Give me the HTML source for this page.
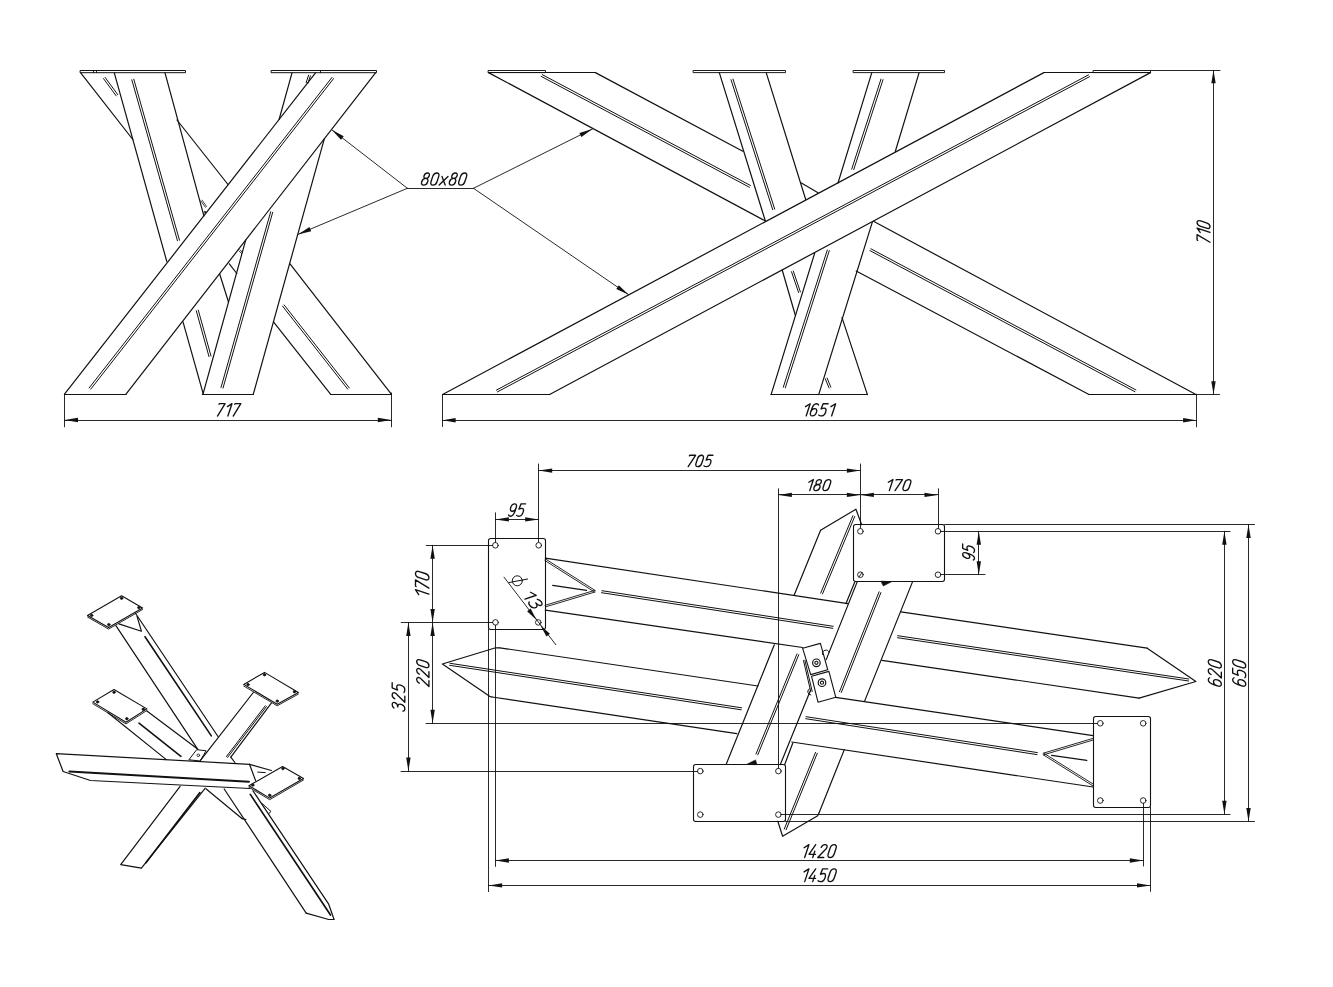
<!DOCTYPE html>
<html><head><meta charset="utf-8"><style>
html,body{margin:0;padding:0;background:#fff;}
body{width:1333px;height:987px;overflow:hidden;}
svg{display:block;will-change:transform;}
text{font-family:"Liberation Sans",sans-serif;font-style:italic;fill:#111;stroke:none;}
</style></head><body>
<svg width="1333" height="987" viewBox="0 0 1333 987">
<g stroke="#111" stroke-linecap="round" stroke-linejoin="round" fill="none">
<rect x="80.5" y="70.5" width="105" height="2.2" fill="none" stroke-width="1.0"/>
<line x1="93.5" y1="70.5" x2="93.5" y2="72.7" stroke-width="0.9"/>
<line x1="96.5" y1="70.5" x2="96.5" y2="72.7" stroke-width="0.9"/>
<rect x="271.5" y="70.5" width="105" height="2.2" fill="none" stroke-width="1.0"/>
<line x1="320.5" y1="70.5" x2="320.5" y2="72.7" stroke-width="0.9"/>
<line x1="315.5" y1="72.9" x2="64.5" y2="394.2" stroke-width="1.2"/>
<line x1="375.5" y1="72.9" x2="126" y2="394.2" stroke-width="1.2"/>
<line x1="332" y1="77.4" x2="89.2" y2="387.9" stroke-width="1"/>
<line x1="333.6" y1="78.6" x2="90.8" y2="389.1" stroke-width="1"/>
<line x1="64.5" y1="394.5" x2="126" y2="394.5" stroke-width="1.2"/>
<line x1="80.7" y1="72.9" x2="132.8" y2="139.5" stroke-width="1.2"/>
<line x1="229.3" y1="263.8" x2="236.8" y2="273.5" stroke-width="1.2"/>
<line x1="273.5" y1="321.8" x2="330.5" y2="394.2" stroke-width="1.2"/>
<line x1="177" y1="120" x2="228" y2="184.5" stroke-width="1.2"/>
<line x1="290" y1="263.8" x2="391.3" y2="394.2" stroke-width="1.2"/>
<line x1="103.5" y1="78.6" x2="116.2" y2="95.9" stroke-width="1"/>
<line x1="105.1" y1="77.4" x2="117.8" y2="94.7" stroke-width="1"/>
<line x1="282.5" y1="306.1" x2="347.7" y2="389.1" stroke-width="1"/>
<line x1="284.1" y1="304.9" x2="349.3" y2="387.9" stroke-width="1"/>
<line x1="330.5" y1="394.5" x2="391.3" y2="394.5" stroke-width="1.2"/>
<line x1="114.3" y1="72.9" x2="166.8" y2="261.5" stroke-width="1.2"/>
<line x1="183" y1="321.8" x2="203.3" y2="394.2" stroke-width="1.2"/>
<line x1="165" y1="72.9" x2="203.9" y2="215.8" stroke-width="1.2"/>
<line x1="219.6" y1="273.7" x2="228.5" y2="302" stroke-width="1.2"/>
<line x1="131.8" y1="79.8" x2="177.5" y2="240.8" stroke-width="1"/>
<line x1="133.8" y1="79.2" x2="179.5" y2="240.2" stroke-width="1"/>
<line x1="196.3" y1="310.8" x2="209" y2="356.6" stroke-width="1"/>
<line x1="198.3" y1="310.2" x2="211" y2="356" stroke-width="1"/>
<line x1="292" y1="72.9" x2="279.1" y2="119.5" stroke-width="1.2"/>
<line x1="245.7" y1="240.1" x2="203" y2="394.2" stroke-width="1.2"/>
<line x1="324.3" y1="138.9" x2="253.3" y2="394.2" stroke-width="1.2"/>
<line x1="270.7" y1="211.7" x2="221" y2="387.5" stroke-width="1"/>
<line x1="272.7" y1="212.3" x2="223" y2="388.1" stroke-width="1"/>
<line x1="308.6" y1="75.2" x2="306.1" y2="82.7" stroke-width="1"/>
<line x1="310.4" y1="75.8" x2="307.9" y2="83.3" stroke-width="1"/>
<line x1="202.3" y1="394.5" x2="253.5" y2="394.5" stroke-width="1.2"/>
<line x1="200.8" y1="200.9" x2="205.4" y2="207.3" stroke-width="0.8"/>
<line x1="202" y1="200.1" x2="206.6" y2="206.5" stroke-width="0.8"/>
<circle cx="205" cy="212.2" r="0.9" fill="none" stroke-width="0.9"/>
<line x1="239" y1="250.8" x2="241.7" y2="253.7" stroke-width="0.8"/>
<line x1="240" y1="249.8" x2="242.7" y2="252.7" stroke-width="0.8"/>
<line x1="64.5" y1="394.2" x2="64.5" y2="426.8" stroke-width="0.9"/>
<line x1="391.5" y1="393" x2="391.5" y2="426.8" stroke-width="0.9"/>
<line x1="64.5" y1="420.5" x2="391.3" y2="420.5" stroke-width="0.9"/>
<polygon points="64.5,420 78,417.8 78,422.2" stroke="none" fill="#111"/>
<polygon points="391.3,420 377.8,422.2 377.8,417.8" stroke="none" fill="#111"/>
<line x1="407.4" y1="188.5" x2="473.5" y2="188.5" stroke-width="0.9"/>
<line x1="407.4" y1="188.3" x2="331.7" y2="129.7" stroke-width="0.9"/>
<polygon points="331.7,129.7 343.7,136.2 341,139.7" stroke="none" fill="#111"/>
<line x1="407.4" y1="188.3" x2="297.9" y2="234.4" stroke-width="0.9"/>
<polygon points="297.9,234.4 309.5,227.1 311.2,231.2" stroke="none" fill="#111"/>
<line x1="473.5" y1="188.3" x2="592.5" y2="128.9" stroke-width="0.9"/>
<polygon points="592.5,128.9 581.4,136.9 579.4,133" stroke="none" fill="#111"/>
<line x1="473.5" y1="188.3" x2="628.7" y2="294.7" stroke-width="0.9"/>
<polygon points="628.7,294.7 616.3,288.9 618.8,285.3" stroke="none" fill="#111"/>
<rect x="488.5" y="70.5" width="57" height="2.1" fill="none" stroke-width="0.95"/>
<rect x="693.5" y="70.5" width="92" height="2.1" fill="none" stroke-width="0.95"/>
<rect x="853.5" y="70.5" width="91" height="2.1" fill="none" stroke-width="0.95"/>
<rect x="1093.5" y="70.5" width="57" height="2.1" fill="none" stroke-width="0.95"/>
<line x1="488.5" y1="72.5" x2="595.4" y2="72.5" stroke-width="1.2"/>
<line x1="1043.9" y1="72.5" x2="1150.5" y2="72.5" stroke-width="1.2"/>
<line x1="1150.5" y1="70.5" x2="1220" y2="70.5" stroke-width="0.9"/>
<line x1="488.5" y1="72.6" x2="765" y2="220.8" stroke-width="1.2"/>
<line x1="856.2" y1="271" x2="1088.5" y2="394.2" stroke-width="1.2"/>
<line x1="595.4" y1="72.6" x2="742.8" y2="151.2" stroke-width="1.2"/>
<line x1="801.4" y1="183" x2="818" y2="192.8" stroke-width="1.2"/>
<line x1="873.5" y1="221.3" x2="1195.5" y2="394.2" stroke-width="1.2"/>
<line x1="541.2" y1="76.4" x2="749.5" y2="187.3" stroke-width="1"/>
<line x1="542.2" y1="74.6" x2="750.5" y2="185.5" stroke-width="1"/>
<line x1="869.9" y1="250.6" x2="1134.9" y2="391.7" stroke-width="1"/>
<line x1="870.9" y1="248.8" x2="1135.9" y2="389.9" stroke-width="1"/>
<line x1="1088.5" y1="394.5" x2="1195.5" y2="394.5" stroke-width="1.2"/>
<line x1="1043.9" y1="72.6" x2="442.6" y2="394.5" stroke-width="1.2"/>
<line x1="1150.5" y1="72.6" x2="549.6" y2="394.5" stroke-width="1.2"/>
<line x1="1088.5" y1="74.9" x2="496.4" y2="390.1" stroke-width="1"/>
<line x1="1089.5" y1="76.7" x2="497.4" y2="391.9" stroke-width="1"/>
<line x1="442.6" y1="394.5" x2="549.6" y2="394.5" stroke-width="1.2"/>
<line x1="719.3" y1="72.6" x2="765.3" y2="220.8" stroke-width="1.2"/>
<line x1="782.2" y1="270" x2="795.4" y2="315.5" stroke-width="1.2"/>
<line x1="766.2" y1="72.6" x2="805.7" y2="199.5" stroke-width="1.2"/>
<line x1="842" y1="317.6" x2="867.4" y2="394.6" stroke-width="1.2"/>
<line x1="731" y1="79.7" x2="772.7" y2="209.7" stroke-width="1"/>
<line x1="733" y1="79.1" x2="774.7" y2="209.1" stroke-width="1"/>
<line x1="791.5" y1="271.7" x2="798.6" y2="292.5" stroke-width="1"/>
<line x1="793.3" y1="271.1" x2="800.4" y2="291.9" stroke-width="1"/>
<line x1="825.3" y1="378.8" x2="829" y2="387.9" stroke-width="1"/>
<line x1="827.1" y1="378" x2="830.8" y2="387.1" stroke-width="1"/>
<line x1="819.7" y1="394.5" x2="867.4" y2="394.5" stroke-width="1.2"/>
<line x1="871.8" y1="72.6" x2="838" y2="183" stroke-width="1.2"/>
<line x1="814.7" y1="253.1" x2="771.1" y2="394.6" stroke-width="1.2"/>
<line x1="919.1" y1="72.6" x2="895.3" y2="151.5" stroke-width="1.2"/>
<line x1="872.4" y1="221.9" x2="818.7" y2="394.6" stroke-width="1.2"/>
<line x1="881" y1="79.1" x2="851.7" y2="169.1" stroke-width="1"/>
<line x1="883" y1="79.7" x2="853.7" y2="169.7" stroke-width="1"/>
<line x1="827.3" y1="250" x2="783.3" y2="387.2" stroke-width="1"/>
<line x1="829.3" y1="250.6" x2="785.3" y2="387.8" stroke-width="1"/>
<line x1="771.1" y1="394.5" x2="818.7" y2="394.5" stroke-width="1.2"/>
<line x1="442.5" y1="394.5" x2="442.5" y2="426.5" stroke-width="0.9"/>
<line x1="1196.5" y1="394.2" x2="1196.5" y2="426.8" stroke-width="0.9"/>
<line x1="442.6" y1="420.5" x2="1196.1" y2="420.5" stroke-width="0.9"/>
<polygon points="442.6,420.2 455.6,418 455.6,422.4" stroke="none" fill="#111"/>
<polygon points="1196.1,420.2 1183.1,422.4 1183.1,418" stroke="none" fill="#111"/>
<line x1="1195.5" y1="394.5" x2="1219.5" y2="394.5" stroke-width="0.9"/>
<line x1="1213.5" y1="70.3" x2="1213.5" y2="394.2" stroke-width="0.9"/>
<polygon points="1213.5,70.3 1215.7,83.3 1211.3,83.3" stroke="none" fill="#111"/>
<polygon points="1213.5,394.2 1211.3,381.2 1215.7,381.2" stroke="none" fill="#111"/>
<rect x="488.5" y="538.5" width="57" height="91" rx="2.2" fill="none" stroke-width="1.1"/>
<rect x="853.5" y="524.5" width="91" height="57" rx="2.2" fill="none" stroke-width="1.1"/>
<rect x="1093.5" y="716.5" width="57" height="91" rx="2.2" fill="none" stroke-width="1.1"/>
<rect x="693.5" y="764.5" width="92" height="57" rx="2.2" fill="none" stroke-width="1.1"/>
<polygon points="746.8,764.3 755.5,759.9 756.9,764.3" fill="#111" stroke-width="0.6"/>
<polygon points="881,581.5 883.3,585.9 891.1,581.9" fill="#111" stroke-width="0.6"/>
<circle cx="495.4" cy="545.3" r="2.8" fill="none" stroke-width="0.9"/>
<circle cx="538.7" cy="545.3" r="2.8" fill="none" stroke-width="0.9"/>
<circle cx="495.5" cy="622.4" r="2.8" fill="none" stroke-width="0.9"/>
<circle cx="538.3" cy="622.4" r="2.8" fill="none" stroke-width="0.9"/>
<circle cx="860.4" cy="531.3" r="2.8" fill="none" stroke-width="0.9"/>
<circle cx="938" cy="531.3" r="2.8" fill="none" stroke-width="0.9"/>
<circle cx="860.4" cy="574.7" r="2.8" fill="none" stroke-width="0.9"/>
<circle cx="938" cy="574.7" r="2.8" fill="none" stroke-width="0.9"/>
<circle cx="1100.3" cy="723.3" r="2.8" fill="none" stroke-width="0.9"/>
<circle cx="1143.2" cy="723.3" r="2.8" fill="none" stroke-width="0.9"/>
<circle cx="1100.3" cy="800.5" r="2.8" fill="none" stroke-width="0.9"/>
<circle cx="1143.2" cy="800.5" r="2.8" fill="none" stroke-width="0.9"/>
<circle cx="700.3" cy="771.1" r="2.8" fill="none" stroke-width="0.9"/>
<circle cx="778.4" cy="771.1" r="2.8" fill="none" stroke-width="0.9"/>
<circle cx="700.3" cy="814.6" r="2.8" fill="none" stroke-width="0.9"/>
<circle cx="778.4" cy="814.6" r="2.8" fill="none" stroke-width="0.9"/>
<line x1="859" y1="577" x2="862" y2="572.5" stroke-width="0.9"/>
<line x1="545.3" y1="558.2" x2="847.9" y2="603.6" stroke-width="1.2"/>
<line x1="900.9" y1="611.9" x2="1147.2" y2="648.2" stroke-width="1.2"/>
<polyline points="1147.2,648.2 1195.9,681.5 1139.1,698.1" fill="none" stroke-width="1.2"/>
<line x1="545.3" y1="610.2" x2="802.6" y2="647.5" stroke-width="1.2"/>
<line x1="881.9" y1="660.3" x2="1139.1" y2="698.1" stroke-width="1.2"/>
<line x1="601.5" y1="592.7" x2="832.8" y2="628.3" stroke-width="1"/>
<line x1="601.9" y1="590.7" x2="833.2" y2="626.3" stroke-width="1"/>
<line x1="897.5" y1="637.7" x2="1188.6" y2="681" stroke-width="1"/>
<line x1="897.7" y1="635.7" x2="1188.8" y2="679" stroke-width="1"/>
<line x1="544.9" y1="560.5" x2="594.4" y2="591.9" stroke-width="0.9"/>
<line x1="545.7" y1="559.1" x2="595.2" y2="590.5" stroke-width="0.9"/>
<line x1="594.6" y1="590.4" x2="545.1" y2="605.3" stroke-width="0.9"/>
<line x1="595" y1="592" x2="545.5" y2="606.9" stroke-width="0.9"/>
<line x1="552.7" y1="585.4" x2="586.5" y2="590.4" stroke-width="1.2"/>
<polyline points="499.8,647.8 495.7,647.8 442.4,664 490.3,696.7 492,697" fill="none" stroke-width="1.2"/>
<line x1="499.8" y1="647.8" x2="758" y2="686" stroke-width="1.2"/>
<line x1="835.6" y1="697.4" x2="1093.1" y2="735.6" stroke-width="1.2"/>
<line x1="492" y1="697" x2="736.8" y2="733.7" stroke-width="1.2"/>
<line x1="791.7" y1="742" x2="1093.1" y2="787" stroke-width="1.2"/>
<line x1="449.6" y1="665.3" x2="741.2" y2="709.8" stroke-width="1"/>
<line x1="450" y1="663.3" x2="741.6" y2="707.8" stroke-width="1"/>
<line x1="805.7" y1="718.7" x2="1037" y2="754.6" stroke-width="1"/>
<line x1="806.1" y1="716.7" x2="1037.4" y2="752.6" stroke-width="1"/>
<line x1="1092.9" y1="738.4" x2="1043.3" y2="753.2" stroke-width="0.9"/>
<line x1="1093.3" y1="740" x2="1043.7" y2="754.8" stroke-width="0.9"/>
<line x1="1043.1" y1="754.7" x2="1092.7" y2="785.7" stroke-width="0.9"/>
<line x1="1043.9" y1="753.3" x2="1093.5" y2="784.3" stroke-width="0.9"/>
<line x1="1051.6" y1="755.4" x2="1086.8" y2="760.4" stroke-width="1.2"/>
<polyline points="820.6,530.3 855.9,509.2 861.7,524.7" fill="none" stroke-width="1.2"/>
<line x1="820.6" y1="530.3" x2="794.2" y2="595.1" stroke-width="1.2"/>
<line x1="774.3" y1="644.8" x2="726.2" y2="764.2" stroke-width="1.2"/>
<line x1="854.8" y1="581.9" x2="846" y2="603.6" stroke-width="1.2"/>
<line x1="810.6" y1="690" x2="780.3" y2="764.6" stroke-width="1.2"/>
<line x1="852.9" y1="515.7" x2="820.7" y2="593.1" stroke-width="1"/>
<line x1="854.7" y1="516.5" x2="822.5" y2="593.9" stroke-width="1"/>
<line x1="797" y1="653.9" x2="756" y2="754" stroke-width="1"/>
<line x1="798.8" y1="654.7" x2="757.8" y2="754.8" stroke-width="1"/>
<line x1="857.2" y1="581.9" x2="826.2" y2="659.6" stroke-width="1.2"/>
<line x1="792.7" y1="743.2" x2="784.7" y2="764.5" stroke-width="1.2"/>
<line x1="912.4" y1="582.1" x2="864.6" y2="701.1" stroke-width="1.2"/>
<line x1="844.3" y1="749.6" x2="819.3" y2="812.3" stroke-width="1.2"/>
<polyline points="819.3,812.3 817.7,815.7 782.6,836.3 777.8,821.3" fill="none" stroke-width="1.2"/>
<line x1="879.1" y1="591.8" x2="839.5" y2="691.7" stroke-width="1"/>
<line x1="880.9" y1="592.6" x2="841.3" y2="692.5" stroke-width="1"/>
<line x1="815.5" y1="752.4" x2="784.3" y2="829" stroke-width="1"/>
<line x1="817.3" y1="753.2" x2="786.1" y2="829.8" stroke-width="1"/>
<polygon points="802.6,648.2 820.4,643.4 827.7,669.7 810.7,674.6" fill="none" stroke-width="1.1"/>
<polygon points="811.5,676.2 828.9,671.4 835.8,697.3 818,702.2" fill="none" stroke-width="1.1"/>
<line x1="803.5" y1="660.6" x2="810.8" y2="691.8" stroke-width="1"/>
<line x1="804.9" y1="660.2" x2="812.2" y2="691.4" stroke-width="1"/>
<circle cx="816.4" cy="662.8" r="3.8" fill="none" stroke-width="1.2"/>
<circle cx="816.4" cy="662.8" r="1.6" fill="none" stroke-width="1.1"/>
<circle cx="822" cy="682.7" r="3.8" fill="none" stroke-width="1.2"/>
<circle cx="822" cy="682.7" r="1.6" fill="none" stroke-width="1.1"/>
<path d="M822.6,654.6 A3.4,3.4 0 0 1 829.2,652.6" fill="none" stroke-width="1.0"/>
<path d="M809.6,688.6 A3.4,3.4 0 0 0 810.8,695" fill="none" stroke-width="1.0"/>
<line x1="538.5" y1="464" x2="538.5" y2="542" stroke-width="0.9"/>
<line x1="860.5" y1="464" x2="860.5" y2="528" stroke-width="0.9"/>
<line x1="538.7" y1="470.5" x2="860.4" y2="470.5" stroke-width="0.9"/>
<polygon points="538.7,470.6 552.2,468.4 552.2,472.8" stroke="none" fill="#111"/>
<polygon points="860.4,470.6 846.9,472.8 846.9,468.4" stroke="none" fill="#111"/>
<line x1="778.5" y1="488.8" x2="778.5" y2="768.3" stroke-width="0.9"/>
<line x1="938.5" y1="488.8" x2="938.5" y2="528.5" stroke-width="0.9"/>
<line x1="778.4" y1="494.5" x2="938" y2="494.5" stroke-width="0.9"/>
<polygon points="778.4,494.9 791.9,492.7 791.9,497.1" stroke="none" fill="#111"/>
<polygon points="860.4,494.9 846.9,497.1 846.9,492.7" stroke="none" fill="#111"/>
<polygon points="860.4,494.9 873.9,492.7 873.9,497.1" stroke="none" fill="#111"/>
<polygon points="938,494.9 924.5,497.1 924.5,492.7" stroke="none" fill="#111"/>
<line x1="495.5" y1="512.8" x2="495.5" y2="542.5" stroke-width="0.9"/>
<line x1="495.4" y1="519.5" x2="538.7" y2="519.5" stroke-width="0.9"/>
<polygon points="495.4,519.4 508.9,517.2 508.9,521.6" stroke="none" fill="#111"/>
<polygon points="538.7,519.4 525.2,521.6 525.2,517.2" stroke="none" fill="#111"/>
<line x1="940.8" y1="531.5" x2="1230.1" y2="531.5" stroke-width="0.9"/>
<line x1="940.8" y1="574.5" x2="985" y2="574.5" stroke-width="0.9"/>
<line x1="978.5" y1="531.3" x2="978.5" y2="574.7" stroke-width="0.9"/>
<polygon points="978.8,531.3 981,544.8 976.6,544.8" stroke="none" fill="#111"/>
<polygon points="978.8,574.7 976.6,561.2 981,561.2" stroke="none" fill="#111"/>
<line x1="944.6" y1="524.5" x2="1254.5" y2="524.5" stroke-width="0.9"/>
<line x1="1224.5" y1="531.3" x2="1224.5" y2="814.3" stroke-width="0.9"/>
<polygon points="1224.4,531.3 1226.6,544.8 1222.2,544.8" stroke="none" fill="#111"/>
<polygon points="1224.4,814.3 1222.2,800.8 1226.6,800.8" stroke="none" fill="#111"/>
<line x1="1248.5" y1="524.5" x2="1248.5" y2="821.4" stroke-width="0.9"/>
<polygon points="1248.5,524.5 1250.7,538 1246.3,538" stroke="none" fill="#111"/>
<polygon points="1248.5,821.4 1246.3,807.9 1250.7,807.9" stroke="none" fill="#111"/>
<line x1="781.2" y1="814.5" x2="1230" y2="814.5" stroke-width="0.9"/>
<line x1="785.2" y1="821.5" x2="1254.5" y2="821.5" stroke-width="0.9"/>
<line x1="426.3" y1="545.5" x2="492.6" y2="545.5" stroke-width="0.9"/>
<line x1="401.2" y1="622.5" x2="492.7" y2="622.5" stroke-width="0.9"/>
<line x1="426" y1="723.5" x2="1097.5" y2="723.5" stroke-width="0.9"/>
<line x1="401" y1="771.5" x2="697.5" y2="771.5" stroke-width="0.9"/>
<line x1="432.5" y1="545.3" x2="432.5" y2="723.3" stroke-width="0.9"/>
<polygon points="432.6,545.3 434.8,558.8 430.4,558.8" stroke="none" fill="#111"/>
<polygon points="432.6,622.4 430.4,608.9 434.8,608.9" stroke="none" fill="#111"/>
<polygon points="432.6,622.4 434.8,635.9 430.4,635.9" stroke="none" fill="#111"/>
<polygon points="432.6,723.3 430.4,709.8 434.8,709.8" stroke="none" fill="#111"/>
<line x1="408.5" y1="622.4" x2="408.5" y2="771.1" stroke-width="0.9"/>
<polygon points="408.4,622.4 410.6,635.9 406.2,635.9" stroke="none" fill="#111"/>
<polygon points="408.4,771.1 406.2,757.6 410.6,757.6" stroke="none" fill="#111"/>
<line x1="495.5" y1="625.2" x2="495.5" y2="866.4" stroke-width="0.9"/>
<line x1="488.5" y1="629.2" x2="488.5" y2="891.6" stroke-width="0.9"/>
<line x1="1143.5" y1="803.3" x2="1143.5" y2="866" stroke-width="0.9"/>
<line x1="1150.5" y1="807.3" x2="1150.5" y2="891.4" stroke-width="0.9"/>
<line x1="495.4" y1="860.5" x2="1143.3" y2="860.5" stroke-width="0.9"/>
<polygon points="495.4,860.5 508.9,858.3 508.9,862.7" stroke="none" fill="#111"/>
<polygon points="1143.3,860.5 1129.8,862.7 1129.8,858.3" stroke="none" fill="#111"/>
<line x1="488.6" y1="885.5" x2="1150.5" y2="885.5" stroke-width="0.9"/>
<polygon points="488.6,885.4 502.1,883.2 502.1,887.6" stroke="none" fill="#111"/>
<polygon points="1150.5,885.4 1137,887.6 1137,883.2" stroke="none" fill="#111"/>
<line x1="504" y1="577.2" x2="555.8" y2="644.7" stroke-width="0.9"/>
<polygon points="536.7,620.2 527.1,611.2 530.6,608.5" stroke="none" fill="#111"/>
<polygon points="540.1,624.9 549.9,633.7 546.5,636.5" stroke="none" fill="#111"/>
<polygon points="121.6,595.7 142.6,607.9 108.6,627.5 87.5,615.4" fill="none" stroke-width="1.1"/>
<polyline points="87.5,617 108.6,629.1 142.6,609.5" fill="none" stroke-width="0.9"/>
<circle cx="121.6" cy="598.3" r="1.2" fill="#111" stroke-width="0.8"/>
<circle cx="138.8" cy="607.6" r="1.2" fill="#111" stroke-width="0.8"/>
<circle cx="108.8" cy="624.6" r="1.2" fill="#111" stroke-width="0.8"/>
<circle cx="91.6" cy="615.4" r="1.2" fill="#111" stroke-width="0.8"/>
<polygon points="114,689.5 146.9,708.9 126,722.3 92.8,702.1" fill="none" stroke-width="1.1"/>
<polyline points="92.8,703.7 126,723.9 146.9,710.5" fill="none" stroke-width="0.9"/>
<circle cx="114" cy="692.2" r="1.2" fill="#111" stroke-width="0.8"/>
<circle cx="143.2" cy="709.2" r="1.2" fill="#111" stroke-width="0.8"/>
<circle cx="126.8" cy="718.7" r="1.2" fill="#111" stroke-width="0.8"/>
<circle cx="97.6" cy="701.9" r="1.2" fill="#111" stroke-width="0.8"/>
<polygon points="264.5,672.4 298.4,692.5 277.2,704.2 243.7,684.4" fill="none" stroke-width="1.1"/>
<polyline points="243.7,686 277.2,705.8 298.4,694.1" fill="none" stroke-width="0.9"/>
<circle cx="264.5" cy="674.8" r="1.2" fill="#111" stroke-width="0.8"/>
<circle cx="294.4" cy="691.7" r="1.2" fill="#111" stroke-width="0.8"/>
<circle cx="277.2" cy="701.1" r="1.2" fill="#111" stroke-width="0.8"/>
<circle cx="248" cy="684.6" r="1.2" fill="#111" stroke-width="0.8"/>
<polygon points="282.6,766.6 303.5,778.4 269.7,798.1 248.9,785.7" fill="none" stroke-width="1.1"/>
<polyline points="248.9,787.3 269.7,799.7 303.5,780" fill="none" stroke-width="0.9"/>
<circle cx="282.9" cy="768.6" r="1.2" fill="#111" stroke-width="0.8"/>
<circle cx="299.3" cy="778.4" r="1.2" fill="#111" stroke-width="0.8"/>
<circle cx="269.7" cy="795.3" r="1.2" fill="#111" stroke-width="0.8"/>
<circle cx="252.8" cy="785.1" r="1.2" fill="#111" stroke-width="0.8"/>
<line x1="115.9" y1="625.7" x2="197.3" y2="748.7" stroke-width="1.2"/>
<line x1="135.3" y1="613" x2="218" y2="736.5" stroke-width="1.2"/>
<line x1="145" y1="636.7" x2="211.3" y2="735.9" stroke-width="1.6"/>
<polyline points="118.9,623.9 141.4,631.2 137.1,616.6" fill="none" stroke-width="1.2"/>
<line x1="108" y1="712.8" x2="166.3" y2="759.6" stroke-width="1.2"/>
<line x1="146.9" y1="711" x2="197.9" y2="749.3" stroke-width="1.2"/>
<line x1="139" y1="723.2" x2="180.9" y2="756.3" stroke-width="1.6"/>
<line x1="253.3" y1="692.5" x2="200.5" y2="760.4" stroke-width="1.2"/>
<line x1="271.3" y1="703.2" x2="230.8" y2="757.2" stroke-width="1.2"/>
<line x1="230.8" y1="757.2" x2="234.9" y2="762.5" stroke-width="1.2"/>
<line x1="265.2" y1="705.8" x2="226.4" y2="756.6" stroke-width="1"/>
<line x1="266.4" y1="706.6" x2="227.6" y2="757.4" stroke-width="1"/>
<polygon points="197.1,749.7 206.1,750.8 200,761 189.3,759.8" fill="none" stroke-width="1"/>
<circle cx="198.3" cy="755.3" r="1.3" fill="none" stroke-width="0.8"/>
<polyline points="249.5,764.3 56.3,753.7 63.1,771.5 90.5,780.5 250,788.5" fill="none" stroke-width="1.2"/>
<line x1="69.4" y1="771.5" x2="248.9" y2="781.8" stroke-width="2"/>
<polyline points="249.5,764.3 271.4,770.5" fill="none" stroke-width="1.2"/>
<line x1="249.5" y1="764.3" x2="255.6" y2="780.6" stroke-width="1.2"/>
<line x1="257.7" y1="772.1" x2="265.3" y2="772.6" stroke-width="1"/>
<polyline points="180.1,786.3 120.7,864.6 141.4,868.2 205.3,788.1" fill="none" stroke-width="1.2"/>
<line x1="199.9" y1="792.6" x2="145.9" y2="862.8" stroke-width="1.7"/>
<line x1="224.2" y1="789" x2="306.2" y2="913.2" stroke-width="1.2"/>
<polyline points="306.2,913.2 328.7,919.5 334.1,919.5 328.7,904.2 253,790.8" fill="none" stroke-width="1.2"/>
<line x1="250.3" y1="794.4" x2="330.5" y2="915" stroke-width="1.7"/>
<line x1="206.2" y1="789" x2="242.2" y2="818.7" stroke-width="1.2"/>
<line x1="242.2" y1="818.7" x2="246" y2="819.5" stroke-width="1.2"/>
<polyline points="262,803.4 271,811.5 269.1,813.3" fill="none" stroke-width="1"/>
<circle cx="517.3" cy="580.8" r="5" fill="none" stroke-width="1"/>
<line x1="508.8" y1="582.6" x2="527.6" y2="579" stroke-width="1"/>
<g transform="matrix(1.0738,1.3993,1.1235,-0.3921,521.760,594.972)" stroke-width="1.35" fill="none"><path vector-effect="non-scaling-stroke" d="M0.2,7.6 L3.0,10 L3.0,0" transform="translate(0.000,0)"/><path vector-effect="non-scaling-stroke" d="M0.1,8.6 C0.5,9.5 1.2,10 2.2,10 C3.4,10 4.2,9.2 4.2,7.9 C4.2,6.5 3.3,5.6 1.8,5.6 C3.5,5.6 4.4,4.5 4.4,2.9 C4.4,1.1 3.4,0 2.1,0 C1.0,0 0.3,0.6 0,1.5" transform="translate(5.400,0)"/></g>
<g transform="matrix(1.2681,0.0000,0.4075,-1.2350,215.192,416.025)" stroke-width="1.35" fill="none" vector-effect="non-scaling-stroke"><path vector-effect="non-scaling-stroke" d="M0,9.5 L0.1,10 L4.6,10 L1.8,0" transform="translate(0.000,0)"/><path vector-effect="non-scaling-stroke" d="M0.2,7.6 L3.0,10 L3.0,0" transform="translate(7.000,0)"/><path vector-effect="non-scaling-stroke" d="M0,9.5 L0.1,10 L4.6,10 L1.8,0" transform="translate(12.400,0)"/></g>
<g transform="matrix(1.3389,0.0000,0.4010,-1.2150,802.160,415.925)" stroke-width="1.35" fill="none" vector-effect="non-scaling-stroke"><path vector-effect="non-scaling-stroke" d="M0.2,7.6 L3.0,10 L3.0,0" transform="translate(0.000,0)"/><path vector-effect="non-scaling-stroke" d="M4.1,9.0 C3.7,9.7 3.0,10 2.3,10 C0.9,10 0,8.4 0,5.4 L0,3.0 C0,1.0 1.0,0 2.2,0 C3.4,0 4.4,1.0 4.4,3.0 C4.4,5.0 3.4,6.0 2.2,6.0 C1.0,6.0 0,5.0 0,3.4" transform="translate(5.400,0)"/><path vector-effect="non-scaling-stroke" d="M4.2,10 L0.5,10 L0.2,5.7 C0.9,6.2 1.6,6.4 2.3,6.4 C3.6,6.4 4.4,5.3 4.4,3.3 C4.4,1.2 3.4,0 2.1,0 C1.2,0 0.5,0.2 0,0.7" transform="translate(12.200,0)"/><path vector-effect="non-scaling-stroke" d="M0.2,7.6 L3.0,10 L3.0,0" transform="translate(19.000,0)"/></g>
<g transform="matrix(1.3643,0.0000,0.3993,-1.2100,420.598,185.075)" stroke-width="1.35" fill="none" vector-effect="non-scaling-stroke"><path vector-effect="non-scaling-stroke" d="M2.2,5.5 C1.0,5.5 0.3,6.3 0.3,7.7 C0.3,9.1 1.1,10 2.2,10 C3.3,10 4.1,9.1 4.1,7.7 C4.1,6.3 3.4,5.5 2.2,5.5 Z M2.2,5.5 C0.9,5.5 0,4.5 0,2.8 C0,1.1 0.9,0 2.2,0 C3.5,0 4.4,1.1 4.4,2.8 C4.4,4.5 3.5,5.5 2.2,5.5 Z" transform="translate(0.000,0)"/><path vector-effect="non-scaling-stroke" d="M0,2.8 L0,7.2 C0,9.0 1.0,10 2.2,10 C3.4,10 4.4,9.0 4.4,7.2 L4.4,2.8 C4.4,1.0 3.4,0 2.2,0 C1.0,0 0,1.0 0,2.8 Z" transform="translate(6.800,0)"/><path vector-effect="non-scaling-stroke" d="M0,0 L4.4,7.1 M0,7.1 L4.4,0" transform="translate(13.600,0)"/><path vector-effect="non-scaling-stroke" d="M2.2,5.5 C1.0,5.5 0.3,6.3 0.3,7.7 C0.3,9.1 1.1,10 2.2,10 C3.3,10 4.1,9.1 4.1,7.7 C4.1,6.3 3.4,5.5 2.2,5.5 Z M2.2,5.5 C0.9,5.5 0,4.5 0,2.8 C0,1.1 0.9,0 2.2,0 C3.5,0 4.4,1.1 4.4,2.8 C4.4,4.5 3.5,5.5 2.2,5.5 Z" transform="translate(20.400,0)"/><path vector-effect="non-scaling-stroke" d="M0,2.8 L0,7.2 C0,9.0 1.0,10 2.2,10 C3.4,10 4.4,9.0 4.4,7.2 L4.4,2.8 C4.4,1.0 3.4,0 2.2,0 C1.0,0 0,1.0 0,2.8 Z" transform="translate(27.200,0)"/></g>
<g transform="matrix(1.2966,0.0000,0.3745,-1.1350,685.841,466.625)" stroke-width="1.35" fill="none" vector-effect="non-scaling-stroke"><path vector-effect="non-scaling-stroke" d="M0,9.5 L0.1,10 L4.6,10 L1.8,0" transform="translate(0.000,0)"/><path vector-effect="non-scaling-stroke" d="M0,2.8 L0,7.2 C0,9.0 1.0,10 2.2,10 C3.4,10 4.4,9.0 4.4,7.2 L4.4,2.8 C4.4,1.0 3.4,0 2.2,0 C1.0,0 0,1.0 0,2.8 Z" transform="translate(7.000,0)"/><path vector-effect="non-scaling-stroke" d="M4.2,10 L0.5,10 L0.2,5.7 C0.9,6.2 1.6,6.4 2.3,6.4 C3.6,6.4 4.4,5.3 4.4,3.3 C4.4,1.2 3.4,0 2.1,0 C1.2,0 0.5,0.2 0,0.7" transform="translate(13.800,0)"/></g>
<g transform="matrix(1.2413,0.0000,0.4075,-1.2350,507.895,516.225)" stroke-width="1.35" fill="none" vector-effect="non-scaling-stroke"><path vector-effect="non-scaling-stroke" d="M0.3,1.0 C0.7,0.3 1.4,0 2.1,0 C3.5,0 4.4,1.6 4.4,4.6 L4.4,7.0 C4.4,9.0 3.4,10 2.2,10 C1.0,10 0,9.0 0,7.0 C0,5.0 1.0,4.0 2.2,4.0 C3.4,4.0 4.4,5.0 4.4,6.6" transform="translate(0.000,0)"/><path vector-effect="non-scaling-stroke" d="M4.2,10 L0.5,10 L0.2,5.7 C0.9,6.2 1.6,6.4 2.3,6.4 C3.6,6.4 4.4,5.3 4.4,3.3 C4.4,1.2 3.4,0 2.1,0 C1.2,0 0.5,0.2 0,0.7" transform="translate(6.800,0)"/></g>
<g transform="matrix(1.3411,0.0000,0.3647,-1.1050,805.735,490.625)" stroke-width="1.35" fill="none" vector-effect="non-scaling-stroke"><path vector-effect="non-scaling-stroke" d="M0.2,7.6 L3.0,10 L3.0,0" transform="translate(0.000,0)"/><path vector-effect="non-scaling-stroke" d="M2.2,5.5 C1.0,5.5 0.3,6.3 0.3,7.7 C0.3,9.1 1.1,10 2.2,10 C3.3,10 4.1,9.1 4.1,7.7 C4.1,6.3 3.4,5.5 2.2,5.5 Z M2.2,5.5 C0.9,5.5 0,4.5 0,2.8 C0,1.1 0.9,0 2.2,0 C3.5,0 4.4,1.1 4.4,2.8 C4.4,4.5 3.5,5.5 2.2,5.5 Z" transform="translate(5.400,0)"/><path vector-effect="non-scaling-stroke" d="M0,2.8 L0,7.2 C0,9.0 1.0,10 2.2,10 C3.4,10 4.4,9.0 4.4,7.2 L4.4,2.8 C4.4,1.0 3.4,0 2.2,0 C1.0,0 0,1.0 0,2.8 Z" transform="translate(12.200,0)"/></g>
<g transform="matrix(1.3613,0.0000,0.3647,-1.1050,885.231,490.625)" stroke-width="1.35" fill="none" vector-effect="non-scaling-stroke"><path vector-effect="non-scaling-stroke" d="M0.2,7.6 L3.0,10 L3.0,0" transform="translate(0.000,0)"/><path vector-effect="non-scaling-stroke" d="M0,9.5 L0.1,10 L4.6,10 L1.8,0" transform="translate(5.400,0)"/><path vector-effect="non-scaling-stroke" d="M0,2.8 L0,7.2 C0,9.0 1.0,10 2.2,10 C3.4,10 4.4,9.0 4.4,7.2 L4.4,2.8 C4.4,1.0 3.4,0 2.2,0 C1.0,0 0,1.0 0,2.8 Z" transform="translate(12.400,0)"/></g>
<g transform="matrix(1.3623,0.0000,0.4241,-1.2850,800.580,857.525)" stroke-width="1.35" fill="none" vector-effect="non-scaling-stroke"><path vector-effect="non-scaling-stroke" d="M0.2,7.6 L3.0,10 L3.0,0" transform="translate(0.000,0)"/><path vector-effect="non-scaling-stroke" d="M2.6,10 L0,2.5 L4.8,2.5 M3.5,4.9 L3.5,0" transform="translate(5.400,0)"/><path vector-effect="non-scaling-stroke" d="M0.1,7.9 C0.3,9.3 1.1,10 2.2,10 C3.5,10 4.3,9.2 4.3,7.9 C4.3,7.0 3.9,6.3 3.2,5.5 L0,0 L4.4,0" transform="translate(12.600,0)"/><path vector-effect="non-scaling-stroke" d="M0,2.8 L0,7.2 C0,9.0 1.0,10 2.2,10 C3.4,10 4.4,9.0 4.4,7.2 L4.4,2.8 C4.4,1.0 3.4,0 2.2,0 C1.0,0 0,1.0 0,2.8 Z" transform="translate(19.400,0)"/></g>
<g transform="matrix(1.3624,0.0000,0.4207,-1.2750,800.605,881.625)" stroke-width="1.35" fill="none" vector-effect="non-scaling-stroke"><path vector-effect="non-scaling-stroke" d="M0.2,7.6 L3.0,10 L3.0,0" transform="translate(0.000,0)"/><path vector-effect="non-scaling-stroke" d="M2.6,10 L0,2.5 L4.8,2.5 M3.5,4.9 L3.5,0" transform="translate(5.400,0)"/><path vector-effect="non-scaling-stroke" d="M4.2,10 L0.5,10 L0.2,5.7 C0.9,6.2 1.6,6.4 2.3,6.4 C3.6,6.4 4.4,5.3 4.4,3.3 C4.4,1.2 3.4,0 2.1,0 C1.2,0 0.5,0.2 0,0.7" transform="translate(12.600,0)"/><path vector-effect="non-scaling-stroke" d="M0,2.8 L0,7.2 C0,9.0 1.0,10 2.2,10 C3.4,10 4.4,9.0 4.4,7.2 L4.4,2.8 C4.4,1.0 3.4,0 2.2,0 C1.0,0 0,1.0 0,2.8 Z" transform="translate(19.400,0)"/></g>
<g transform="matrix(0.0000,-1.2116,-1.2950,-0.4273,1210.025,244.406)" stroke-width="1.35" fill="none" vector-effect="non-scaling-stroke"><path vector-effect="non-scaling-stroke" d="M0,9.5 L0.1,10 L4.6,10 L1.8,0" transform="translate(0.000,0)"/><path vector-effect="non-scaling-stroke" d="M0.2,7.6 L3.0,10 L3.0,0" transform="translate(7.000,0)"/><path vector-effect="non-scaling-stroke" d="M0,2.8 L0,7.2 C0,9.0 1.0,10 2.2,10 C3.4,10 4.4,9.0 4.4,7.2 L4.4,2.8 C4.4,1.0 3.4,0 2.2,0 C1.0,0 0,1.0 0,2.8 Z" transform="translate(12.400,0)"/></g>
<g transform="matrix(0.0000,-1.1711,-1.1850,-0.3911,974.525,560.767)" stroke-width="1.35" fill="none" vector-effect="non-scaling-stroke"><path vector-effect="non-scaling-stroke" d="M0.3,1.0 C0.7,0.3 1.4,0 2.1,0 C3.5,0 4.4,1.6 4.4,4.6 L4.4,7.0 C4.4,9.0 3.4,10 2.2,10 C1.0,10 0,9.0 0,7.0 C0,5.0 1.0,4.0 2.2,4.0 C3.4,4.0 4.4,5.0 4.4,6.6" transform="translate(0.000,0)"/><path vector-effect="non-scaling-stroke" d="M4.2,10 L0.5,10 L0.2,5.7 C0.9,6.2 1.6,6.4 2.3,6.4 C3.6,6.4 4.4,5.3 4.4,3.3 C4.4,1.2 3.4,0 2.1,0 C1.2,0 0.5,0.2 0,0.7" transform="translate(6.800,0)"/></g>
<g transform="matrix(0.0000,-1.4001,-1.3450,-0.4439,428.925,598.278)" stroke-width="1.35" fill="none" vector-effect="non-scaling-stroke"><path vector-effect="non-scaling-stroke" d="M0.2,7.6 L3.0,10 L3.0,0" transform="translate(0.000,0)"/><path vector-effect="non-scaling-stroke" d="M0,9.5 L0.1,10 L4.6,10 L1.8,0" transform="translate(5.400,0)"/><path vector-effect="non-scaling-stroke" d="M0,2.8 L0,7.2 C0,9.0 1.0,10 2.2,10 C3.4,10 4.4,9.0 4.4,7.2 L4.4,2.8 C4.4,1.0 3.4,0 2.2,0 C1.0,0 0,1.0 0,2.8 Z" transform="translate(12.400,0)"/></g>
<g transform="matrix(0.0000,-1.3215,-1.2250,-0.4043,428.925,686.525)" stroke-width="1.35" fill="none" vector-effect="non-scaling-stroke"><path vector-effect="non-scaling-stroke" d="M0.1,7.9 C0.3,9.3 1.1,10 2.2,10 C3.5,10 4.3,9.2 4.3,7.9 C4.3,7.0 3.9,6.3 3.2,5.5 L0,0 L4.4,0" transform="translate(0.000,0)"/><path vector-effect="non-scaling-stroke" d="M0.1,7.9 C0.3,9.3 1.1,10 2.2,10 C3.5,10 4.3,9.2 4.3,7.9 C4.3,7.0 3.9,6.3 3.2,5.5 L0,0 L4.4,0" transform="translate(6.800,0)"/><path vector-effect="non-scaling-stroke" d="M0,2.8 L0,7.2 C0,9.0 1.0,10 2.2,10 C3.4,10 4.4,9.0 4.4,7.2 L4.4,2.8 C4.4,1.0 3.4,0 2.2,0 C1.0,0 0,1.0 0,2.8 Z" transform="translate(13.600,0)"/></g>
<g transform="matrix(0.0000,-1.3990,-1.2650,-0.4175,404.825,711.751)" stroke-width="1.35" fill="none" vector-effect="non-scaling-stroke"><path vector-effect="non-scaling-stroke" d="M0.1,8.6 C0.5,9.5 1.2,10 2.2,10 C3.4,10 4.2,9.2 4.2,7.9 C4.2,6.5 3.3,5.6 1.8,5.6 C3.5,5.6 4.4,4.5 4.4,2.9 C4.4,1.1 3.4,0 2.1,0 C1.0,0 0.3,0.6 0,1.5" transform="translate(0.000,0)"/><path vector-effect="non-scaling-stroke" d="M0.1,7.9 C0.3,9.3 1.1,10 2.2,10 C3.5,10 4.3,9.2 4.3,7.9 C4.3,7.0 3.9,6.3 3.2,5.5 L0,0 L4.4,0" transform="translate(6.800,0)"/><path vector-effect="non-scaling-stroke" d="M4.2,10 L0.5,10 L0.2,5.7 C0.9,6.2 1.6,6.4 2.3,6.4 C3.6,6.4 4.4,5.3 4.4,3.3 C4.4,1.2 3.4,0 2.1,0 C1.2,0 0.5,0.2 0,0.7" transform="translate(13.600,0)"/></g>
<g transform="matrix(0.0000,-1.3462,-1.3050,-0.4307,1221.325,687.187)" stroke-width="1.35" fill="none" vector-effect="non-scaling-stroke"><path vector-effect="non-scaling-stroke" d="M4.1,9.0 C3.7,9.7 3.0,10 2.3,10 C0.9,10 0,8.4 0,5.4 L0,3.0 C0,1.0 1.0,0 2.2,0 C3.4,0 4.4,1.0 4.4,3.0 C4.4,5.0 3.4,6.0 2.2,6.0 C1.0,6.0 0,5.0 0,3.4" transform="translate(0.000,0)"/><path vector-effect="non-scaling-stroke" d="M0.1,7.9 C0.3,9.3 1.1,10 2.2,10 C3.5,10 4.3,9.2 4.3,7.9 C4.3,7.0 3.9,6.3 3.2,5.5 L0,0 L4.4,0" transform="translate(6.800,0)"/><path vector-effect="non-scaling-stroke" d="M0,2.8 L0,7.2 C0,9.0 1.0,10 2.2,10 C3.4,10 4.4,9.0 4.4,7.2 L4.4,2.8 C4.4,1.0 3.4,0 2.2,0 C1.0,0 0,1.0 0,2.8 Z" transform="translate(13.600,0)"/></g>
<g transform="matrix(0.0000,-1.3462,-1.3050,-0.4307,1245.725,687.187)" stroke-width="1.35" fill="none" vector-effect="non-scaling-stroke"><path vector-effect="non-scaling-stroke" d="M4.1,9.0 C3.7,9.7 3.0,10 2.3,10 C0.9,10 0,8.4 0,5.4 L0,3.0 C0,1.0 1.0,0 2.2,0 C3.4,0 4.4,1.0 4.4,3.0 C4.4,5.0 3.4,6.0 2.2,6.0 C1.0,6.0 0,5.0 0,3.4" transform="translate(0.000,0)"/><path vector-effect="non-scaling-stroke" d="M4.2,10 L0.5,10 L0.2,5.7 C0.9,6.2 1.6,6.4 2.3,6.4 C3.6,6.4 4.4,5.3 4.4,3.3 C4.4,1.2 3.4,0 2.1,0 C1.2,0 0.5,0.2 0,0.7" transform="translate(6.800,0)"/><path vector-effect="non-scaling-stroke" d="M0,2.8 L0,7.2 C0,9.0 1.0,10 2.2,10 C3.4,10 4.4,9.0 4.4,7.2 L4.4,2.8 C4.4,1.0 3.4,0 2.2,0 C1.0,0 0,1.0 0,2.8 Z" transform="translate(13.600,0)"/></g>
</g>
</svg>
</body></html>
